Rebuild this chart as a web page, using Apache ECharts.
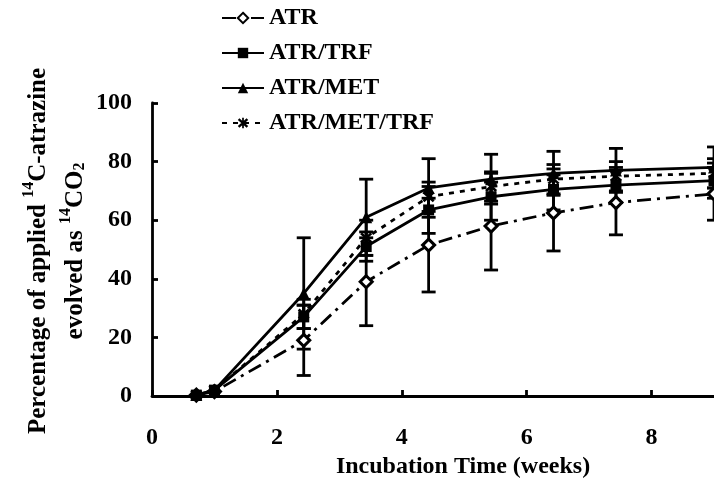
<!DOCTYPE html>
<html>
<head>
<meta charset="utf-8">
<script src="https://cdn.jsdelivr.net/npm/echarts@6/dist/echarts.min.js"></script>
<style>
  html, body { margin: 0; padding: 0; background: #fff; }
  #chart { width: 714px; height: 484px; }
</style>
</head>
<body>
<div id="chart"></div>
<script>
// Incubation times (weeks)
const weeks = [0.71, 1.0, 2.43, 3.43, 4.43, 5.43, 6.43, 7.43, 9.0];

// Percentage of applied 14C-atrazine evolved as 14CO2
const atr       = [0.3, 1.5, 19, 39, 51.5, 58, 62.5, 66, 69];
const atrTrf    = [0.3, 2.0, 27, 51, 63.5, 68, 70.5, 72, 73.5];
const atrMet    = [0.3, 2.0, 35, 61, 71, 74, 76, 77, 78];
const atrMetTrf = [0.3, 2.0, 28, 54, 68, 71.5, 74, 75, 76];

// Standard deviations
const atrErr       = [0, 0, 12, 15, 16, 15, 13, 11, 9];
const atrTrfErr    = [0, 0, 4, 5, 8, 8, 7, 6, 6];
const atrMetErr    = [0, 0, 19, 13, 10, 8.5, 7.5, 7.5, 7];
const atrMetTrfErr = [0, 0, 5, 6, 5, 5, 5, 5, 5];

const seriesNames = ['ATR', 'ATR/TRF', 'ATR/MET', 'ATR/MET/TRF'];
const xTicks = [0, 2, 4, 6, 8];

const FONT = '"Liberation Serif", "Times New Roman", serif';
const INK = '#000';

// Asterisk marker: vertical bar crossed by two diagonals
const asterisk = 'path://M5,0 L7,0 L7,12 L5,12 Z M0,2.5 L1.8,0.6 L12,9.5 L10.2,11.4 Z M10.2,0.6 L12,2.5 L1.8,11.4 L0,9.5 Z';

function pairs(ys) { return weeks.map((x, i) => [x, ys[i]]); }
function errData(ys, es) { return weeks.map((x, i) => [x, ys[i] - es[i], ys[i] + es[i]]); }

function errorBars(name, ys, es) {
  return {
    type: 'custom',
    name: name + ' SD',
    z: 1,
    silent: true,
    data: errData(ys, es),
    encode: { x: 0, y: [1, 2] },
    renderItem: function (params, api) {
      if (api.value(2) - api.value(1) <= 0) return null;
      const lo = api.coord([api.value(0), api.value(1)]);
      const hi = api.coord([api.value(0), api.value(2)]);
      const w = 7;
      const st = { stroke: INK, lineWidth: 2.8 };
      return {
        type: 'group',
        children: [
          { type: 'line', shape: { x1: lo[0], y1: lo[1], x2: hi[0], y2: hi[1] }, style: st },
          { type: 'line', shape: { x1: lo[0] - w, y1: lo[1], x2: lo[0] + w, y2: lo[1] }, style: st },
          { type: 'line', shape: { x1: hi[0] - w, y1: hi[1], x2: hi[0] + w, y2: hi[1] }, style: st }
        ]
      };
    }
  };
}

function lineSeries(name, ys, symbol, size, dash, fill) {
  return {
    type: 'line',
    name: name,
    z: 3,
    data: pairs(ys),
    symbol: symbol,
    symbolSize: size,
    showAllSymbol: true,
    lineStyle: { color: INK, width: 2.8, type: dash },
    itemStyle: { color: fill, borderColor: INK, borderWidth: fill === '#fff' ? 3 : 0 },
    emphasis: { disabled: true }
  };
}

const chart = echarts.init(document.getElementById('chart'), null, { renderer: 'canvas' });

chart.setOption({
  animation: false,
  backgroundColor: '#fff',
  grid: { left: 152, right: 0, top: 103, bottom: 88, containLabel: false },
  legend: {
    orient: 'vertical',
    left: 221,
    top: 6,
    padding: 0,
    data: seriesNames,
    itemWidth: 42,
    itemHeight: 13,
    itemGap: 11,
    selectedMode: false,
    textStyle: { fontFamily: FONT, fontWeight: 'bold', fontSize: 24, color: INK, lineHeight: 24 }
  },
  xAxis: {
    type: 'value',
    min: 0,
    max: 9,
    interval: 2,
    axisLine: { lineStyle: { color: INK, width: 2.8 } },
    axisTick: { inside: true, length: 6, lineStyle: { color: INK, width: 2.8 } },
    splitLine: { show: false },
    axisLabel: {
      color: INK, fontFamily: FONT, fontWeight: 'bold', fontSize: 24, margin: 30,
      showMaxLabel: false,
      formatter: v => (xTicks.indexOf(v) >= 0 ? String(v) : '')
    }
  },
  yAxis: {
    type: 'value',
    min: 0,
    max: 100,
    interval: 20,
    axisLine: { show: true, lineStyle: { color: INK, width: 2.8 } },
    axisTick: { show: true, inside: true, length: 6, lineStyle: { color: INK, width: 2.8 } },
    splitLine: { show: false },
    axisLabel: { color: INK, fontFamily: FONT, fontWeight: 'bold', fontSize: 24, margin: 20 }
  },
  graphic: [
    {
      type: 'text',
      x: 36, y: 251,
      rotation: Math.PI / 2,
      style: {
        text: '{t|Percentage of applied }{sup|14}{t|C-atrazine}',
        align: 'center', verticalAlign: 'middle',
        fill: INK,
        rich: {
          t: { fontFamily: FONT, fontWeight: 'bold', fontSize: 25, lineHeight: 30, fill: INK, verticalAlign: 'bottom' },
          sup: { fontFamily: FONT, fontWeight: 'bold', fontSize: 16, lineHeight: 30, fill: INK, verticalAlign: 'top' }
        }
      }
    },
    {
      type: 'text',
      x: 73, y: 251,
      rotation: Math.PI / 2,
      style: {
        text: '{t|evolved as }{sup|14}{t|CO}{sub|2}',
        align: 'center', verticalAlign: 'middle',
        fill: INK,
        rich: {
          t: { fontFamily: FONT, fontWeight: 'bold', fontSize: 25, lineHeight: 30, fill: INK, verticalAlign: 'bottom' },
          sup: { fontFamily: FONT, fontWeight: 'bold', fontSize: 16, lineHeight: 30, fill: INK, verticalAlign: 'top' },
          sub: { fontFamily: FONT, fontWeight: 'bold', fontSize: 16, lineHeight: 30, fill: INK, verticalAlign: 'bottom' }
        }
      }
    },
    {
      type: 'text',
      x: 463, y: 467,
      style: {
        text: 'Incubation Time (weeks)',
        align: 'center', verticalAlign: 'middle',
        fontFamily: FONT, fontWeight: 'bold', fontSize: 24, fill: INK
      }
    }
  ],
  series: [
    errorBars('ATR', atr, atrErr),
    errorBars('ATR/TRF', atrTrf, atrTrfErr),
    errorBars('ATR/MET', atrMet, atrMetErr),
    errorBars('ATR/MET/TRF', atrMetTrf, atrMetTrfErr),
    lineSeries('ATR', atr, 'diamond', 12, [14, 6, 3, 6], '#fff'),
    lineSeries('ATR/TRF', atrTrf, 'rect', 11, 'solid', INK),
    lineSeries('ATR/MET', atrMet, 'triangle', 12, 'solid', INK),
    lineSeries('ATR/MET/TRF', atrMetTrf, asterisk, 12, [5, 6], INK)
  ]
});
</script>
</body>
</html>
